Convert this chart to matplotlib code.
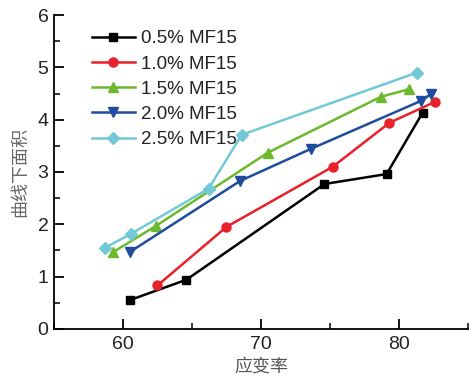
import matplotlib
matplotlib.use("Agg")
import matplotlib.pyplot as plt
from matplotlib.ticker import MultipleLocator

plt.rcParams['font.family'] = ['Liberation Sans', 'Noto Sans CJK SC', 'DejaVu Sans']

labels = ["0.5% MF15", "1.0% MF15", "1.5% MF15", "2.0% MF15", "2.5% MF15"]
x05 = [60.5, 64.6, 74.6, 79.1, 81.7]
y05 = [0.55, 0.94, 2.77, 2.96, 4.13]
x10 = [62.5, 67.5, 75.2, 79.3, 82.6]
y10 = [0.83, 1.95, 3.10, 3.94, 4.34]
x15 = [59.3, 62.4, 70.5, 78.7, 80.7]
y15 = [1.47, 1.97, 3.37, 4.44, 4.58]
x20 = [60.5, 68.5, 73.6, 81.6, 82.3]
y20 = [1.47, 2.83, 3.44, 4.36, 4.49]
x25 = [58.7, 60.6, 66.2, 68.6, 81.3]
y25 = [1.55, 1.82, 2.68, 3.71, 4.90]

colors = ["#000000", "#e8212b", "#6cb92e", "#1f4c9c", "#72c9d6"]
markers = ["s", "o", "^", "v", "D"]
msizes = [6, 6.5, 7, 7, 6]

fig = plt.figure(figsize=(4.69, 3.86), dpi=100)
ax = fig.add_axes([0.115, 0.148, 0.883, 0.813])

series = [(x05, y05), (x10, y10), (x15, y15), (x20, y20), (x25, y25)]
for (xs, ys), c, m, ms, lab in zip(series, colors, markers, msizes, labels):
    ax.plot(xs, ys, color=c, marker=m, markersize=ms, lw=1.8, label=lab,
            markeredgecolor=c)

ax.set_xlim(55, 85)
ax.set_ylim(0, 6)
ax.xaxis.set_major_locator(MultipleLocator(10))
ax.xaxis.set_minor_locator(MultipleLocator(5))
ax.yaxis.set_major_locator(MultipleLocator(1))
ax.yaxis.set_minor_locator(MultipleLocator(0.5))
for s in ['top', 'right']:
    ax.spines[s].set_visible(False)
for s in ['left', 'bottom']:
    ax.spines[s].set_linewidth(1.3)
ax.tick_params(which='major', direction='in', length=7, width=1.3,
               labelsize=14, labelcolor='#222222')
ax.tick_params(which='minor', direction='in', length=4, width=1.1)
ax.tick_params(axis='x', pad=5)
ax.tick_params(axis='y', pad=4)
ax.set_xlabel("应变率", fontsize=13, color='#555555', labelpad=4)
ax.set_ylabel("曲线下面积", fontsize=13, color='#666666', labelpad=6)

leg = ax.legend(loc='upper left', bbox_to_anchor=(0.05, 1.005), frameon=False,
                fontsize=13.5, handlelength=2.3, labelspacing=0.43,
                handletextpad=0.35)
for t in leg.get_texts():
    t.set_color('#222222')

fig.savefig("out.png", dpi=100)
